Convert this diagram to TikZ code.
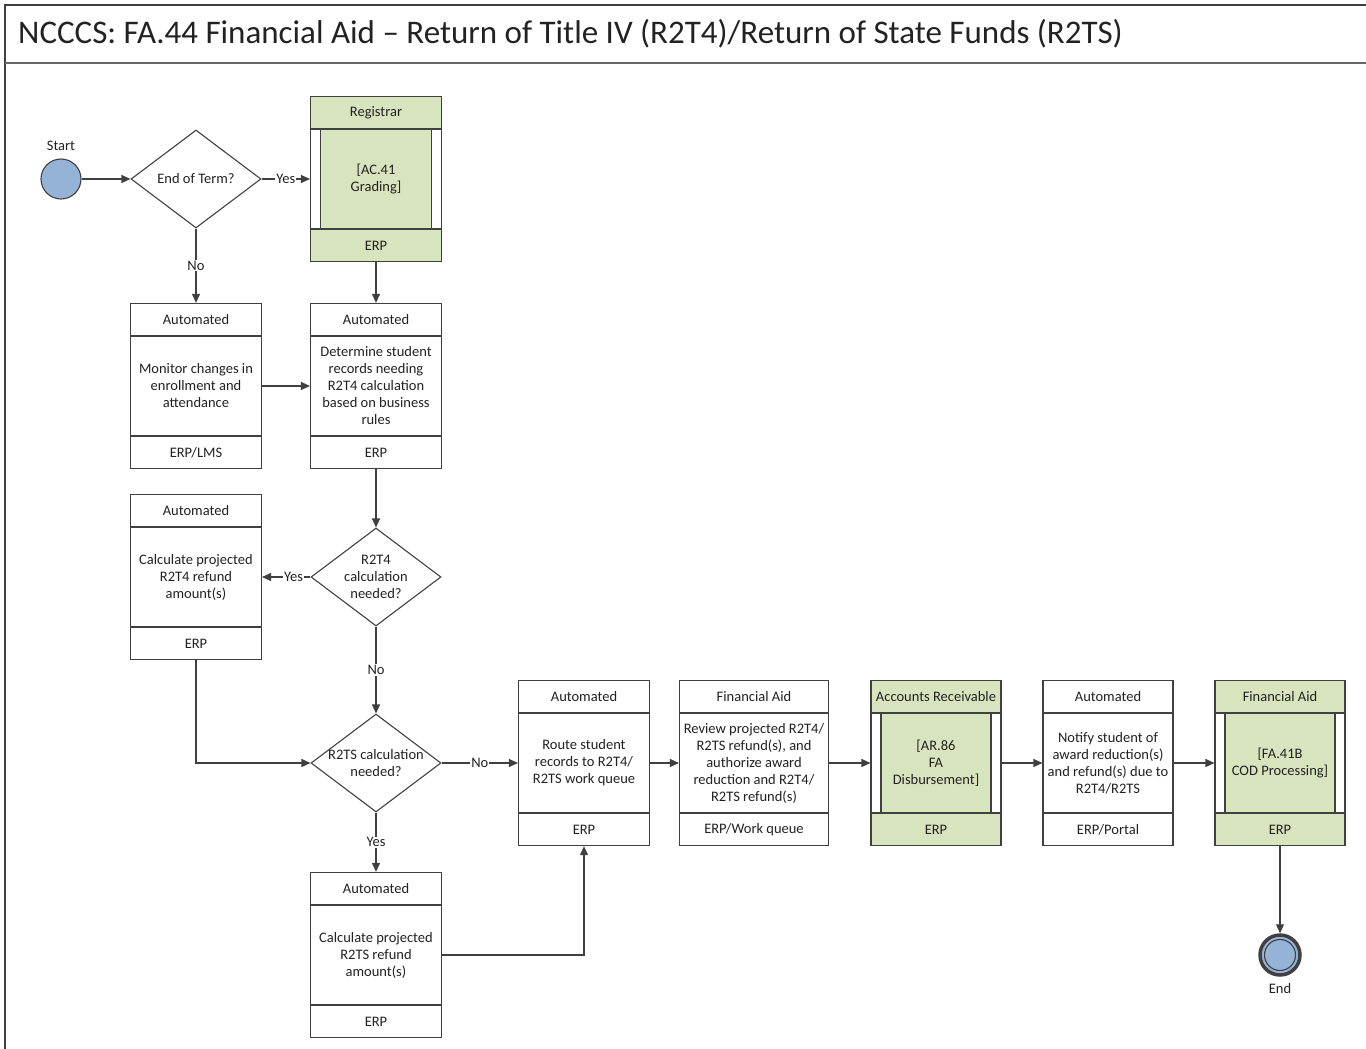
\documentclass[tikz,border=0pt]{standalone}
\usepackage{fontspec}
\setmainfont{Carlito}
\usepackage{tikz}
\usetikzlibrary{
  shapes.geometric,
  arrows.meta,
  calc
}
\definecolor{linegray}{RGB}{64,64,64}
\definecolor{inkgray}{RGB}{34,34,34}
\definecolor{subgreen}{RGB}{215,228,189}
\definecolor{eventblue}{RGB}{149,179,215}
\newcommand{\boxfont}{\fontsize{14.5}{17}\selectfont}
\newcommand{\titlefont}{\fontsize{33}{38}\selectfont}
\tikzset{
  every node/.style={font=\boxfont, text=inkgray},
  flow/.style={line width=1.1pt, draw=linegray, -{Triangle[length=9pt,width=8pt]}},
  flow line/.style={line width=1.1pt, draw=linegray},
  answer/.style={fill=white, inner sep=1pt},
  task body/.style={draw=linegray, line width=1.1pt, fill=white,
    minimum height=99, inner sep=0pt, align=center},
  task head/.style={draw=linegray, line width=1.1pt, fill=white,
    minimum height=32, inner sep=0pt},
  task foot/.style={task head},
  sub body/.style={task body,
    path picture={
      \fill[subgreen, draw=linegray, line width=1.1pt]
        ([xshift=10pt]path picture bounding box.south west)
        rectangle ([xshift=-10pt]path picture bounding box.north east);
    }
  },
  sub head/.style={task head, fill=subgreen},
  sub foot/.style={sub head},
  decision/.style={diamond, draw=linegray, line width=1.1pt,
    minimum width=130, minimum height=98, inner sep=0pt},
  decision text/.style={align=center, inner sep=0pt},
  startevent/.style={circle, draw=linegray, line width=1.1pt,
    fill=eventblue, minimum size=40, inner sep=0pt},
  endevent/.style={startevent, line width=3.5pt}
}
% three stacked cells: who / what / where
\newcommand{\taskbox}[7][131]{%
  \node[#2 body, minimum width=#1] (#3) at #4 {#6};
  \node[#2 head, minimum width=#1, anchor=south] (#3-head) at (#3.north) {#5};
  \node[#2 foot, minimum width=#1, anchor=north] (#3-foot) at (#3.south) {#7};
}

\begin{document}
\begin{tikzpicture}[x=1pt,y=-1pt]
\useasboundingbox (0,0) rectangle (1366,1049);
% frame and title band
\draw[line width=1.4pt, linegray] (5,1049) -- (5,5) -- (1366,5);
\draw[line width=1.4pt, linegray!80] (5,63) -- (1366,63);
\node[anchor=west, inner sep=0pt, font=\titlefont] (title) at (18,34)
  {NCCCS: FA.44 Financial Aid -- Return of Title IV (R2T4)/Return of State Funds (R2TS)};

\node[startevent, label={[label distance=4pt]above:Start}] (start) at (61,179) {};
\node[decision, label={[decision text]center:End of Term?}] (term) at (196,179) {};
\taskbox{sub}{grading}{(376,179)}{Registrar}{[AC.41\\Grading]}{ERP}
\taskbox{task}{monitor}{(196,386)}{Automated}
  {Monitor changes in\\enrollment and\\attendance}{ERP/LMS}
\taskbox{task}{determine}{(376,386)}{Automated}
  {Determine student\\records needing\\R2T4 calculation\\based on business\\rules}{ERP}
\node[decision, label={[decision text]center:R2T4\\calculation\\needed?}] (r2t4) at (376,577) {};
\taskbox{task}{calcfour}{(196,577)}{Automated}
  {Calculate projected\\R2T4 refund\\amount(s)}{ERP}
\node[decision, label={[decision text]center:R2TS calculation\\needed?}] (r2ts) at (376,763) {};
\taskbox{task}{calcstate}{(376,955)}{Automated}
  {Calculate projected\\R2TS refund\\amount(s)}{ERP}
\taskbox{task}{route}{(584,763)}{Automated}
  {Route student\\records to R2T4/\\R2TS work queue}{ERP}
\taskbox[149]{task}{review}{(754,763)}{Financial Aid}
  {Review projected R2T4/\\R2TS refund(s), and\\authorize award\\reduction and R2T4/\\R2TS refund(s)}{ERP/Work queue}
\taskbox[130]{sub}{disburse}{(936,763)}{Accounts Receivable}
  {[AR.86\\FA\\Disbursement]}{ERP}
\taskbox[130]{task}{notify}{(1108,763)}{Automated}
  {Notify student of\\award reduction(s)\\and refund(s) due to\\R2T4/R2TS}{ERP/Portal}
\taskbox[130]{sub}{cod}{(1280,763)}{Financial Aid}
  {[FA.41B\\COD Processing]}{ERP}
\node[endevent, label={[label distance=3pt]below:End}] (end) at (1280,955) {};
\draw[line width=1.1pt, linegray] (end) circle (15.5);

% connectors
\draw[flow] (start) -- (term);
\draw[flow] (term) -- node[answer] {Yes} (grading);
\draw[flow] (term) -- node[answer] {No} (monitor-head);
\draw[flow] (grading-foot) -- (determine-head);
\draw[flow] (monitor) -- (determine);
\draw[flow] (determine-foot) -- (r2t4);
\draw[flow] (r2t4) -- node[answer, pos=0.35] {Yes} (calcfour);
\draw[flow] (r2t4) -- node[answer] {No} (r2ts);
\draw[flow] (calcfour-foot.south) |- (r2ts.west);
\draw[flow] (r2ts) -- node[answer] {No} (route);
\draw[flow] (r2ts) -- node[answer] {Yes} (calcstate-head);
\draw[flow] (calcstate.east) -| (route-foot.south);
\draw[flow] (route) -- (review);
\draw[flow] (review) -- (disburse);
\draw[flow] (disburse) -- (notify);
\draw[flow] (notify) -- (cod);
\draw[flow] (cod-foot) -- (end);
\end{tikzpicture}
\end{document}
